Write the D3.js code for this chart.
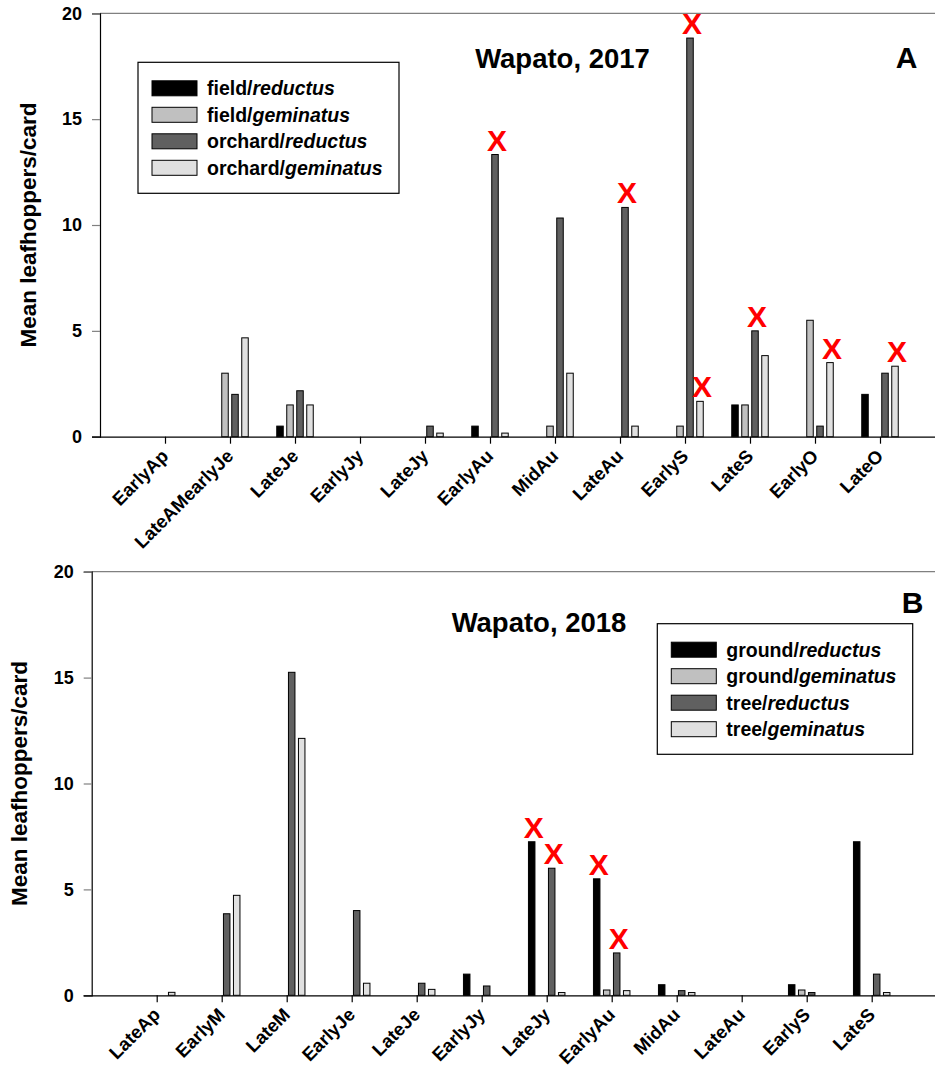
<!DOCTYPE html>
<html>
<head>
<meta charset="utf-8">
<script src="https://cdn.jsdelivr.net/npm/d3@7"></script>
<style>
  body { margin: 0; background: #fff; }
  svg { display: block; font-family: "Liberation Sans", Arial, sans-serif; }
</style>
</head>
<body>
<div id="chart"></div>
<script>
// Leafhopper sticky card counts, Wapato 2017 (A) and 2018 (B)

const yTicks = [0, 5, 10, 15, 20];

// panel A - 2017
const periods2017 = ['EarlyAp', 'LateAMearlyJe', 'LateJe', 'EarlyJy', 'LateJy', 'EarlyAu',
  'MidAu', 'LateAu', 'EarlyS', 'LateS', 'EarlyO', 'LateO'];
const fieldReductus = [0, 0, 0.5, 0, 0, 0.5, 0, 0, 0, 1.5, 0, 2];
const fieldGeminatus = [0, 3, 1.5, 0, 0, 0, 0.5, 0, 0.5, 1.5, 5.5, 0];
const orchardReductus = [0, 2, 2.17, 0, 0.5, 13.33, 10.33, 10.83, 18.83, 5, 0.5, 3];
const orchardGeminatus = [0, 4.67, 1.5, 0, 0.17, 0.17, 3, 0.5, 1.67, 3.83, 3.5, 3.33];
const marks2017 = [['EarlyAu', 2], ['LateAu', 2], ['EarlyS', 2], ['EarlyS', 3],
  ['LateS', 2], ['EarlyO', 3], ['LateO', 3]];

// panel B - 2018
const periods2018 = ['LateAp', 'EarlyM', 'LateM', 'EarlyJe', 'LateJe', 'EarlyJy', 'LateJy',
  'EarlyAu', 'MidAu', 'LateAu', 'EarlyS', 'LateS'];
const groundReductus = [0, 0, 0, 0, 0, 1, 7.25, 5.5, 0.5, 0, 0.5, 7.25];
const groundGeminatus = [0, 0, 0, 0, 0, 0, 0, 0.25, 0, 0, 0.25, 0];
const treeReductus = [0, 3.85, 15.25, 4, 0.57, 0.44, 6, 2, 0.22, 0, 0.13, 1];
const treeGeminatus = [0.14, 4.72, 12.13, 0.57, 0.28, 0, 0.13, 0.22, 0.13, 0, 0, 0.13];
const marks2018 = [['LateJy', 0], ['LateJy', 2], ['EarlyAu', 0], ['EarlyAu', 2]];

const fills = ['#000000', '#c0c0c0', '#606060', '#e0e0e0'];

const svg = d3.select('#chart').append('svg')
  .attr('width', 935)
  .attr('height', 1066);

function drawPanel(cfg) {
  const g = svg.append('g');

  const x = d3.scalePoint()
    .domain(cfg.periods)
    .range([cfg.left, cfg.left + 845])
    .padding(1);

  const y = d3.scaleLinear()
    .domain([0, 20])
    .range([cfg.bottom, cfg.top]);

  const inner = d3.scaleBand()
    .domain(d3.range(4))
    .range([-18.25, 18.25])
    .paddingInner(0.35);

  // top frame line
  g.append('line')
    .attr('x1', cfg.left).attr('x2', 935)
    .attr('y1', y(20)).attr('y2', y(20))
    .attr('stroke', '#808080').attr('stroke-width', 1.2);

  // y axis
  const yAxis = g.append('g')
    .attr('transform', `translate(${cfg.left},0)`)
    .call(d3.axisLeft(y).tickValues(yTicks).tickSize(8).tickPadding(10));
  yAxis.select('.domain').attr('stroke', '#000').attr('stroke-width', 1.2);
  yAxis.selectAll('.tick line').attr('stroke', '#808080').attr('stroke-width', 1.2);
  yAxis.selectAll('.tick text')
    .attr('font-size', 18).attr('font-weight', 'bold').attr('fill', '#000')
    .attr('font-family', '"Liberation Sans", Arial, sans-serif');

  // x axis
  const xAxis = g.append('g')
    .attr('transform', `translate(0,${cfg.bottom})`)
    .call(d3.axisBottom(x).tickSize(7).tickSizeOuter(0));
  xAxis.select('.domain').attr('stroke', '#000').attr('stroke-width', 1.2)
    .attr('d', `M${cfg.left - 8},0.5H935`);
  xAxis.selectAll('.tick line').attr('stroke', '#000').attr('stroke-width', 1.2);
  xAxis.selectAll('.tick text')
    .attr('font-size', 18.5).attr('font-weight', 'bold').attr('fill', '#000')
    .attr('font-family', '"Liberation Sans", Arial, sans-serif')
    .attr('text-anchor', 'end')
    .attr('dy', null)
    .attr('y', 0)
    .attr('transform', 'translate(4,20.5) rotate(-45)');

  // bars
  const rows = [];
  cfg.series.forEach((vals, s) => {
    vals.forEach((v, i) => {
      if (v > 0) rows.push({ p: cfg.periods[i], s: s, v: v });
    });
  });

  g.selectAll('.bar')
    .data(rows)
    .enter()
    .append('rect')
    .attr('class', 'bar')
    .attr('x', d => x(d.p) + inner(d.s))
    .attr('width', inner.bandwidth())
    .attr('y', d => y(d.v))
    .attr('height', d => y(0) - y(d.v))
    .attr('fill', d => fills[d.s])
    .attr('stroke', '#000')
    .attr('stroke-width', 1);

  // significance marks
  g.selectAll('.mark')
    .data(cfg.marks)
    .enter()
    .append('text')
    .attr('class', 'mark')
    .attr('x', d => x(d[0]) + inner(d[1]) + inner.bandwidth() / 2 + 2)
    .attr('y', d => y(cfg.series[d[1]][cfg.periods.indexOf(d[0])]) - 4)
    .attr('text-anchor', 'middle')
    .attr('font-size', 30)
    .attr('font-weight', 'bold')
    .attr('fill', '#ff0000')
    .text('X');

  // y label
  g.append('text')
    .attr('transform', `translate(${cfg.ylabelX},${(cfg.top + cfg.bottom) / 2}) rotate(-90)`)
    .attr('text-anchor', 'middle')
    .attr('font-size', 22.5)
    .attr('font-weight', 'bold')
    .text('Mean leafhoppers/card');

  // title and panel letter
  g.append('text')
    .attr('x', cfg.titleX).attr('y', cfg.titleY)
    .attr('text-anchor', 'middle')
    .attr('font-size', 27.5).attr('font-weight', 'bold')
    .text(cfg.title);

  g.append('text')
    .attr('x', cfg.letterX).attr('y', cfg.letterY)
    .attr('text-anchor', 'middle')
    .attr('font-size', 30).attr('font-weight', 'bold')
    .text(cfg.letter);

  // legend
  const lg = g.append('g').attr('transform', `translate(${cfg.legend.x},${cfg.legend.y})`);
  lg.append('rect')
    .attr('width', cfg.legend.w).attr('height', cfg.legend.h)
    .attr('fill', '#fff').attr('stroke', '#000').attr('stroke-width', 1.2);

  const items = lg.selectAll('.item')
    .data(cfg.names)
    .enter()
    .append('g')
    .attr('class', 'item')
    .attr('transform', (d, i) => `translate(14,${26 + i * 26.5})`);

  items.append('rect')
    .attr('x', 0).attr('y', -7.5)
    .attr('width', 45).attr('height', 15)
    .attr('fill', (d, i) => fills[i])
    .attr('stroke', '#000').attr('stroke-width', 1);

  const lt = items.append('text')
    .attr('x', 55).attr('y', 7)
    .attr('font-size', 19.5).attr('font-weight', 'bold');
  lt.append('tspan').text(d => d[0] + '/');
  lt.append('tspan').attr('font-style', 'italic').text(d => d[1]);
}

drawPanel({
  periods: periods2017,
  series: [fieldReductus, fieldGeminatus, orchardReductus, orchardGeminatus],
  marks: marks2017,
  names: [['field', 'reductus'], ['field', 'geminatus'], ['orchard', 'reductus'], ['orchard', 'geminatus']],
  left: 100, top: 13.3, bottom: 436.7,
  ylabelX: 36,
  title: 'Wapato, 2017', titleX: 562.5, titleY: 68.3,
  letter: 'A', letterX: 906.5, letterY: 68.3,
  legend: { x: 138, y: 62.3, w: 261, h: 131 }
});

drawPanel({
  periods: periods2018,
  series: [groundReductus, groundGeminatus, treeReductus, treeGeminatus],
  marks: marks2018,
  names: [['ground', 'reductus'], ['ground', 'geminatus'], ['tree', 'reductus'], ['tree', 'geminatus']],
  left: 91.7, top: 571.7, bottom: 995.3,
  ylabelX: 27,
  title: 'Wapato, 2018', titleX: 539, titleY: 631.7,
  letter: 'B', letterX: 912.5, letterY: 613.3,
  legend: { x: 657.3, y: 623.7, w: 255.4, h: 130.6 }
});
</script>
</body>
</html>
